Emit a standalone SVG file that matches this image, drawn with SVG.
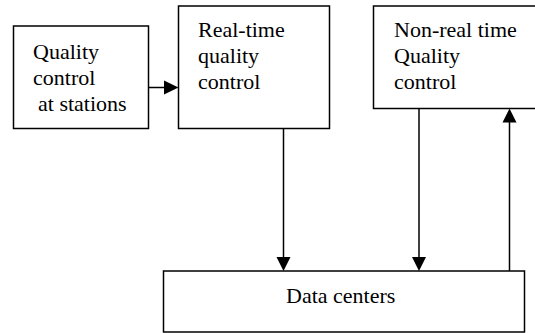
<svg xmlns="http://www.w3.org/2000/svg" width="535" height="333" viewBox="0 0 535 333">
<defs>
<style>
.box{fill:#fff;stroke:#000;stroke-width:1.5}
.t{font-family:'Liberation Serif','Times New Roman',Times,serif;font-size:22px;fill:#000}
.c{stroke:#000;stroke-width:1.5;fill:none}
.ah{fill:#000;stroke:none}
</style>
</defs>
<rect width="535" height="333" fill="#fff"/>
<g id="qc-stations">
<rect class="box" x="13.5" y="26" width="135" height="102.5"/>
<text class="t" font-family="Liberation Serif, serif" x="33" y="59">Quality</text>
<text class="t" font-family="Liberation Serif, serif" x="33" y="85">control</text>
<text class="t" font-family="Liberation Serif, serif" x="38" y="111">at stations</text>
</g>
<g id="rt-qc">
<rect class="box" x="178.5" y="6" width="151" height="122.5"/>
<text class="t" font-family="Liberation Serif, serif" x="198" y="37">Real-time</text>
<text class="t" font-family="Liberation Serif, serif" x="198" y="63">quality</text>
<text class="t" font-family="Liberation Serif, serif" x="198" y="89">control</text>
</g>
<g id="nrt-qc">
<rect class="box" x="373.5" y="6" width="170" height="102.5"/>
<text class="t" font-family="Liberation Serif, serif" x="394" y="37">Non-real time</text>
<text class="t" font-family="Liberation Serif, serif" x="394" y="63">Quality</text>
<text class="t" font-family="Liberation Serif, serif" x="394" y="89">control</text>
</g>
<g id="data-centers">
<rect class="box" x="163.5" y="271" width="361" height="61"/>
<text class="t" font-family="Liberation Serif, serif" x="286" y="303">Data centers</text>
</g>
<g id="connectors">
<line class="c" x1="148.5" y1="87.5" x2="165" y2="87.5"/>
<polygon class="ah" points="164,80.5 178.5,87.5 164,94.5"/>
<line class="c" x1="283.5" y1="128.5" x2="283.5" y2="258"/>
<polygon class="ah" points="276.5,257 283.5,271 290.5,257"/>
<line class="c" x1="419" y1="108.5" x2="419" y2="258"/>
<polygon class="ah" points="412,257 419,271 426,257"/>
<line class="c" x1="509.5" y1="271" x2="509.5" y2="121"/>
<polygon class="ah" points="502.5,122.5 509.5,108.5 516.5,122.5"/>
</g>
</svg>
